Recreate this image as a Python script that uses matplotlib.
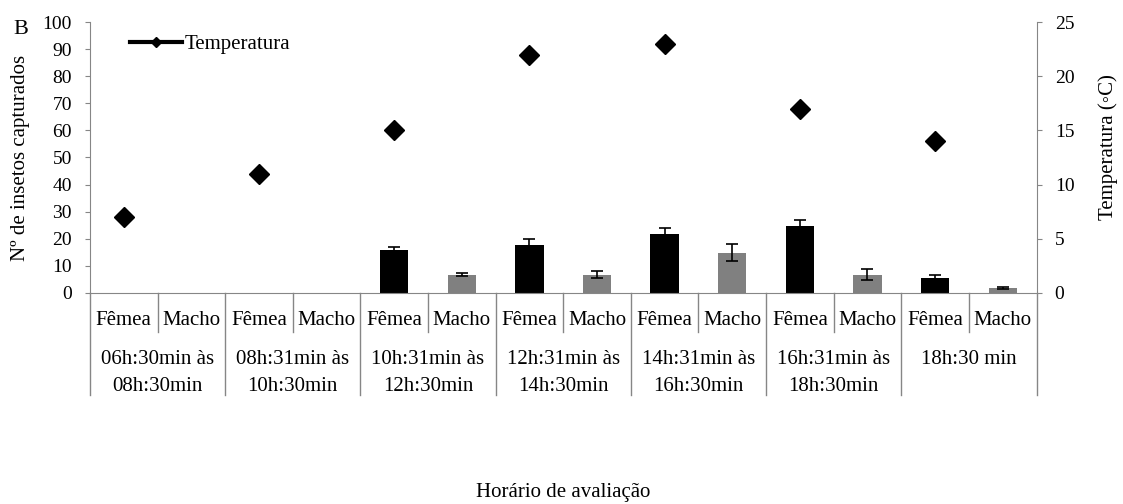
import numpy as np
import matplotlib.pyplot as plt

# dados
horarios = ['06h:30min às\n08h:30min', '08h:31min às\n10h:30min', '10h:31min às\n12h:30min',
            '12h:31min às\n14h:30min', '14h:31min às\n16h:30min', '16h:31min às\n18h:30min',
            '18h:30 min']
sexos = ['Fêmea', 'Macho']
femea = [0, 0, 16, 17.8, 21.9, 24.8, 5.7]
femea_err = [0, 0, 1.1, 2.2, 2.1, 2.1, 1.1]
macho = [0, 0, 6.8, 6.8, 14.9, 6.8, 1.7]
macho_err = [0, 0, 0.4, 1.2, 3.2, 2.0, 0.4]
temperatura = [7, 11, 15, 22, 23, 17, 14]

plt.rcParams['font.family'] = ['Liberation Serif', 'DejaVu Serif']
plt.rcParams['font.size'] = 15
cinza = '#868686'

fig = plt.figure(figsize=(11.23, 5.04), dpi=100)
ax = fig.add_axes([0.0801, 0.4187, 0.9230 - 0.0801, 0.9563 - 0.4187])

n = len(horarios)
xf = np.arange(n) * 2
xm = xf + 1

ax.bar(xf, femea, width=0.42, color='black', zorder=2)
ax.bar(xm, macho, width=0.42, color='#808080', zorder=2)

# barras de erro só onde há erro
fe = np.array(femea_err)
me = np.array(macho_err)
ax.errorbar(xf[fe > 0], np.array(femea)[fe > 0], yerr=fe[fe > 0], fmt='none',
            ecolor='black', elinewidth=1.2, capsize=4.3, capthick=1.2, zorder=3)
ax.errorbar(xm[me > 0], np.array(macho)[me > 0], yerr=me[me > 0], fmt='none',
            ecolor='black', elinewidth=1.2, capsize=4.3, capthick=1.2, zorder=3)

ax.set_xlim(-0.5, 2 * n - 0.5)
ax.set_ylim(0, 100)
ax.set_yticks(np.arange(0, 101, 10))
ax.set_ylabel('Nº de insetos capturados')
ax.yaxis.set_label_coords(-0.0634, 0.5)

# eixo x com dois níveis
ax.set_xticks(np.arange(2 * n))
ax.set_xticklabels(sexos * n)
ax.tick_params(axis='x', length=0, pad=13.3)
ax.tick_params(axis='y', direction='out', length=3.6, color=cinza, pad=9.5, labelsize=14)

tr = ax.get_xaxis_transform()
for i in range(2 * n + 1):
    b = i - 0.5
    if i % 2 == 0:
        ax.plot([b, b], [0, -0.376], transform=tr, color=cinza, lw=1, clip_on=False)
    else:
        ax.plot([b, b], [0, -0.144], transform=tr, color=cinza, lw=1, clip_on=False)
for i, h in enumerate(horarios):
    linhas = h.split('\n')
    for j, lin in enumerate(linhas):
        ax.text(2 * i + 0.5, -0.247 - 0.099 * j, lin, transform=tr,
                ha='center', va='center')

for s in ['top', 'right']:
    ax.spines[s].set_visible(False)
for s in ['left', 'bottom']:
    ax.spines[s].set_color(cinza)

# temperatura no eixo secundário
ax2 = ax.twinx()
temp_full = np.full(2 * n, np.nan)
temp_full[xf] = temperatura
ax2.plot(np.arange(2 * n), temp_full, color='black', lw=3, marker='D', markersize=10,
         label='Temperatura')
ax2.set_ylim(0, 25)
ax2.set_yticks(np.arange(0, 26, 5))
ax2.set_ylabel('Temperatura (◦C)')
ax2.yaxis.set_label_coords(1.065, 0.54)
ax2.tick_params(axis='y', direction='out', length=3.6, color=cinza, pad=9.5, labelsize=14)
for s in ['top', 'left', 'bottom']:
    ax2.spines[s].set_visible(False)
ax2.spines['right'].set_color(cinza)
ax2.legend(loc='upper left', bbox_to_anchor=(0.022, 1.022), frameon=False,
           handlelength=2.5, markerscale=0.55, handletextpad=0.15)

fig.text(0.012, 0.942, 'B', fontsize=16, va='center')
fig.text(0.5013, 0.023, 'Horário de avaliação', ha='center', va='center')

fig.savefig('out.png', dpi=100)
